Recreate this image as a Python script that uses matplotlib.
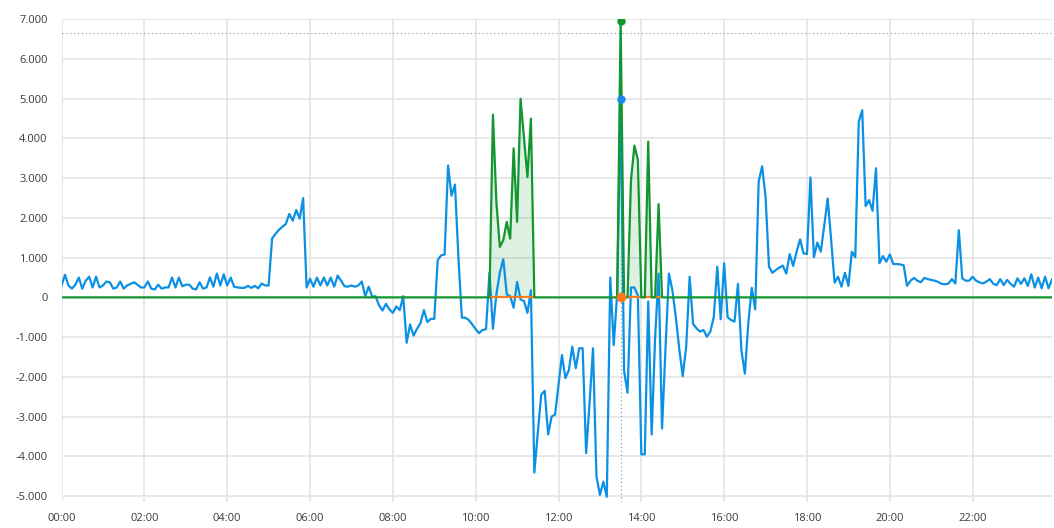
import numpy as np
import pandas as pd
import matplotlib
matplotlib.use("Agg")
import matplotlib.pyplot as plt
import matplotlib.dates as mdates
from matplotlib.ticker import FuncFormatter, MultipleLocator

plt.rcParams['font.family'] = ['Open Sans', 'DejaVu Sans']

# power readings every 5 minutes, in W (one row per hour)
power = [
    [300, 570, 300, 220, 320, 500, 220, 420, 520, 250, 520, 250],            # 00
    [300, 400, 380, 220, 250, 400, 220, 300, 340, 380, 320, 250],            # 01
    [250, 400, 220, 200, 320, 220, 250, 250, 500, 250, 500, 280],            # 02
    [320, 320, 220, 200, 380, 220, 250, 500, 270, 600, 300, 580],            # 03
    [300, 500, 270, 250, 240, 240, 290, 240, 290, 230, 350, 300],            # 04
    [300, 1480, 1600, 1700, 1780, 1850, 2100, 1930, 2200, 1980, 2500, 250],  # 05
    [470, 270, 500, 300, 500, 300, 500, 270, 550, 420, 280, 270],            # 06
    [300, 270, 300, 400, 30, 270, 20, 30, -200, -330, -160, -300],           # 07
    [-390, -230, -320, 30, -1140, -680, -960, -790, -650, -320, -620, -540], # 08
    [-540, 940, 1060, 1080, 3320, 2560, 2840, 1000, -510, -510, -570, -680], # 09
    [-800, -900, -820, -800, 620, -790, 80, 620, 960, 80, 30, -260],         # 10
    [390, -50, -90, -390, 180, -4410, -3400, -2450, -2350, -3450, -3000, -2950],  # 11
    [-2200, -1450, -2030, -1830, -1240, -1780, -1280, -1280, -3920, -2660, -1280, -4510],  # 12
    [-4970, -4640, -5020, 500, -1200, 100, 5000, -1850, -2400, 250, 250, 50],     # 13
    [-3950, -3950, -100, -3450, -1000, 600, -3300, -1300, 600, 180, -500, -1300], # 14
    [-1980, -1240, 520, -670, -780, -860, -820, -990, -860, -490, 770, -550],     # 15
    [860, -500, -570, -610, 340, -1330, -1920, -650, 240, -300, 2910, 3300],      # 16
    [2530, 770, 620, 690, 750, 800, 600, 1090, 790, 1150, 1460, 1110],            # 17
    [1090, 3020, 1010, 1380, 1150, 1800, 2490, 1450, 370, 520, 270, 620],         # 18
    [290, 1150, 1010, 4420, 4710, 2300, 2450, 2180, 3250, 860, 1040, 900],        # 19
    [1080, 840, 840, 830, 810, 290, 420, 490, 420, 380, 490, 460],                # 20
    [440, 420, 390, 340, 330, 350, 460, 350, 1690, 480, 420, 420],                # 21
    [520, 420, 380, 350, 400, 460, 340, 310, 460, 310, 440, 340],                 # 22
    [270, 480, 340, 480, 290, 580, 250, 500, 230, 520, 230, 450],                 # 23
]

# second series: zero all day except two bursts
burst1_start = "10:20"
burst1_vals = [0, 4600, 2400, 1270, 1440, 1900, 1480, 3750, 1900, 5000, 4000, 3030, 4500, 0]
burst2_start = "13:25"
burst2_vals = [0, 6950, 0, 0, 2950, 3820, 3460, 0, 0, 3920, 0, 0, 2350, 0]

# third series only present during the bursts, at 0 W
flat_windows = [("10:20", "11:25"), ("13:25", "14:30")]

hover_time = "13:30"
cursor_y = 6650

day = "2024-01-01 "
times = pd.date_range(day + "00:00", periods=24 * 12, freq="5min")
blue = pd.Series(np.concatenate(power), index=times)

green = pd.Series(0.0, index=times)
for start, vals in [(burst1_start, burst1_vals), (burst2_start, burst2_vals)]:
    idx = pd.date_range(day + start, periods=len(vals), freq="5min")
    green[idx] = vals

orange = pd.Series(np.nan, index=times)
for a, b in flat_windows:
    orange[day + a:day + b] = 0

c_blue = "#0a90e4"
c_green = "#12962f"
c_orange = "#ff7b1c"

fig = plt.figure(figsize=(10.54, 5.28), dpi=100)
ax = fig.add_axes([0.0584, 0.0492, 0.9397, 0.9143])

ax.plot(times, blue.values, color=c_blue, lw=1.6, zorder=3)
ax.plot(times, orange.values, color=c_orange, lw=1.6, zorder=4)
ax.fill_between(times, green.values, 0, color=c_green, alpha=0.14, lw=0, zorder=2)
ax.plot(times, green.values, color=c_green, lw=1.6, zorder=5)

# hover crosshair and markers
ht = pd.Timestamp(day + hover_time)
ax.axvline(ht, color="#6f8fb0", lw=0.8, ls=(0, (1, 2.5)), zorder=1)
ax.axhline(cursor_y, color="#6f8fb0", lw=0.8, ls=(0, (1, 2.5)), zorder=1)
ax.plot([ht], [green[ht]], "o", color=c_green, ms=5, zorder=6)
ax.plot([ht], [blue[ht]], "o", color="#1e88f0", ms=5, zorder=6)
ax.plot([ht], [orange[ht]], "o", color=c_orange, ms=6, zorder=6)

ax.set_xlim(times[0], times[-1])
ax.set_ylim(-5150, 7000)
ax.xaxis.set_major_locator(mdates.HourLocator(byhour=range(0, 24, 2)))
ax.xaxis.set_major_formatter(mdates.DateFormatter("%H:%M"))
ax.yaxis.set_major_locator(MultipleLocator(1000))
ax.yaxis.set_major_formatter(FuncFormatter(lambda v, p: f"{v:,.0f}".replace(",", ".")))

ax.grid(True, color="#e4e4e4", lw=1.2, zorder=0)
ax.set_axisbelow(True)
for s in ax.spines.values():
    s.set_visible(False)
ax.tick_params(length=0, labelsize=8, labelcolor="#3a3a3a")
ax.tick_params(axis="y", pad=10)
ax.tick_params(axis="x", pad=8)

fig.savefig("out.png", dpi=100)
